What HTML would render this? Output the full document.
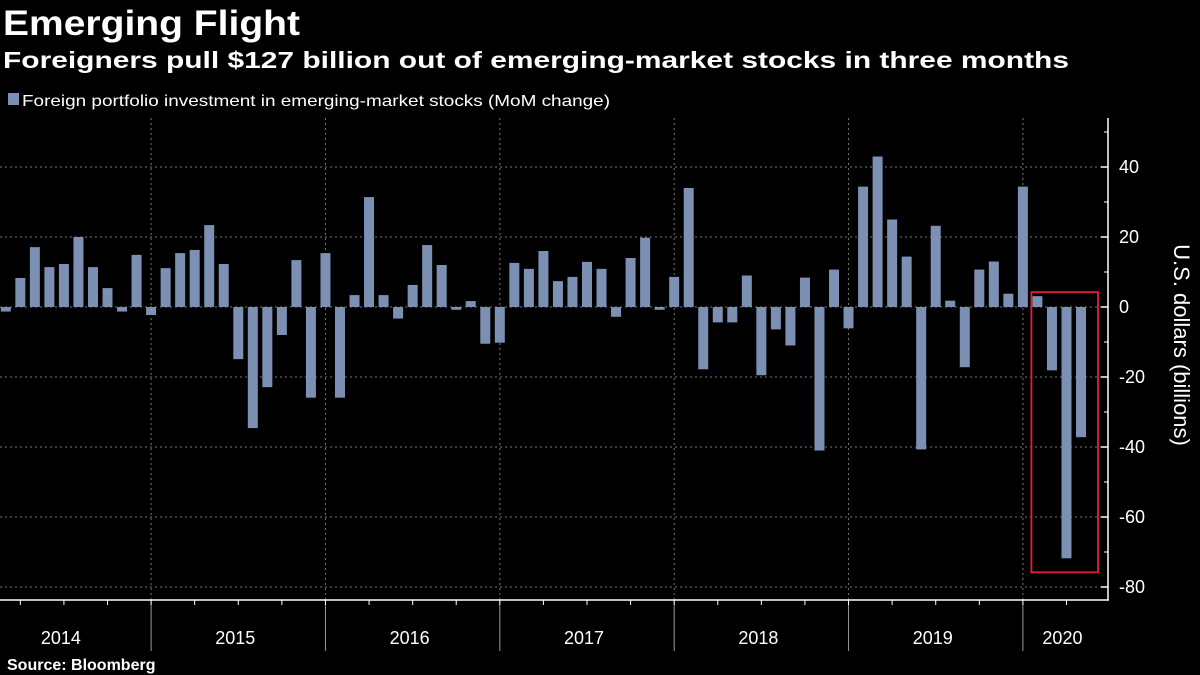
<!DOCTYPE html>
<html><head><meta charset="utf-8"><style>
body{margin:0;background:#000;width:1200px;height:675px;overflow:hidden;font-family:"Liberation Sans",sans-serif;color:#fff}
svg{position:absolute;left:0;top:0}
</style></head><body>
<svg id="c" width="1200" height="675">
<text x="3" y="35" font-size="35" font-weight="bold" fill="#fff" textLength="297" lengthAdjust="spacingAndGlyphs">Emerging Flight</text>
<text x="3" y="68" font-size="23" font-weight="bold" fill="#fff" textLength="1066" lengthAdjust="spacingAndGlyphs">Foreigners pull $127 billion out of emerging-market stocks in three months</text>
<rect x="8" y="93" width="11" height="12" fill="#7b90b2"/>
<text x="22" y="106" font-size="16" fill="#fff" textLength="588" lengthAdjust="spacingAndGlyphs">Foreign portfolio investment in emerging-market stocks (MoM change)</text>
<text x="7" y="670" font-size="16" font-weight="bold" fill="#fff">Source: Bloomberg</text>
<g id="grid"></g><g id="bars"></g><g id="axes"></g>
</svg>
<script>
const values=[-1.3,8.3,17.1,11.4,12.3,20,11.4,5.4,-1.3,14.9,-2.3,11.1,15.4,16.3,23.4,12.3,-14.9,-34.6,-22.9,-8,13.4,-25.9,15.4,-25.9,3.4,31.4,3.4,-3.3,6.3,17.7,12,-0.8,1.7,-10.5,-10.2,12.6,10.9,16,7.4,8.6,12.9,10.9,-2.8,14,19.8,-0.8,8.6,34,-17.8,-4.4,-4.4,9,-19.5,-6.4,-11,8.4,-41,10.7,-6.1,34.4,43,25,14.4,-40.7,23.2,1.8,-17.2,10.7,13,3.8,34.4,3.1,-18.1,-71.8,-37.2];
const years=["2014","2015","2016","2017","2018","2019","2020"];
const yTicks=[40,20,0,-20,-40,-60,-80];
const firstJanIndex=10; // index of first January bar (2015)
const NS="http://www.w3.org/2000/svg";
const y=v=>307-v*3.5;
const M=14.53;
const x=i=>5.8+M*i;
const yearX=k=>x(firstJanIndex)+(k-1)*M*12; // boundary before year k
function mk(t,a,p){const e=document.createElementNS(NS,t);for(const k in a)e.setAttribute(k,a[k]);p.appendChild(e);return e;}
const grid=document.getElementById('grid'),bars=document.getElementById('bars'),axes=document.getElementById('axes');
yTicks.forEach(v=>{
 const l=mk('line',{x1:0,x2:1108,y1:y(v),y2:y(v),stroke:'#777','stroke-dasharray':'2,3','stroke-width':1},grid);
 
 
 mk('line',{x1:1108,x2:1101,y1:y(v),y2:y(v),stroke:'#fff','stroke-width':1.5},axes);
 const t=mk('text',{x:1119,y:y(v)+6,'font-size':18,fill:'#fff'},axes);t.textContent=v;
 
 
});
for(let v=-70;v<=50;v+=20){mk('line',{x1:1108,x2:1104,y1:y(v),y2:y(v),stroke:'#fff'},axes);}
years.forEach((yr,k)=>{
 const bx=yearX(k);
 if(k>0){
  const g=mk('line',{x1:bx,x2:bx,y1:118,y2:600,stroke:'#777','stroke-dasharray':'2,3'},grid);
  
  
  mk('line',{x1:bx,x2:bx,y1:600,y2:651,stroke:'#999'},axes);
 }
 const cx=Math.min(bx+M*6, (bx+1108)/2+ (k==years.length-1?0:0));
 const t=mk('text',{x:(k==years.length-1?(bx+1108)/2:bx+M*6)-3,y:644,'font-size':18,fill:'#fff','text-anchor':'middle'},axes);
 t.textContent=yr;
 
 
});
for(let q=-4;q<30;q++){const qx=x(firstJanIndex)+q*3*M;if(qx>2&&qx<1106)mk('line',{x1:qx,x2:qx,y1:600,y2:605,stroke:'#fff'},axes);}
values.forEach((v,i)=>{
 const r=mk('rect',{x:x(i)-5,width:10,y:Math.min(y(v),y(0)),height:Math.abs(y(v)-y(0)),fill:'#7b90b2'},bars);
 
 
});
mk('line',{x1:0,x2:1109,y1:600,y2:600,stroke:'#fff','stroke-width':1.5},axes);
mk('line',{x1:1108,x2:1108,y1:118,y2:600,stroke:'#fff','stroke-width':1.5},axes);
const hb=mk('rect',{x:x(71)-6,y:y(3.1)-4,width:x(74)-x(71)+23,height:y(-71.8)-y(3.1)+18,fill:'none',stroke:'#e0203a','stroke-width':1.8},axes);


const yt=mk('text',{x:0,y:0,'font-size':22,fill:'#fff','text-anchor':'middle',transform:'translate(1174,345) rotate(90)'},axes);
yt.textContent='U.S. dollars (billions)';


</script>
</body></html>
